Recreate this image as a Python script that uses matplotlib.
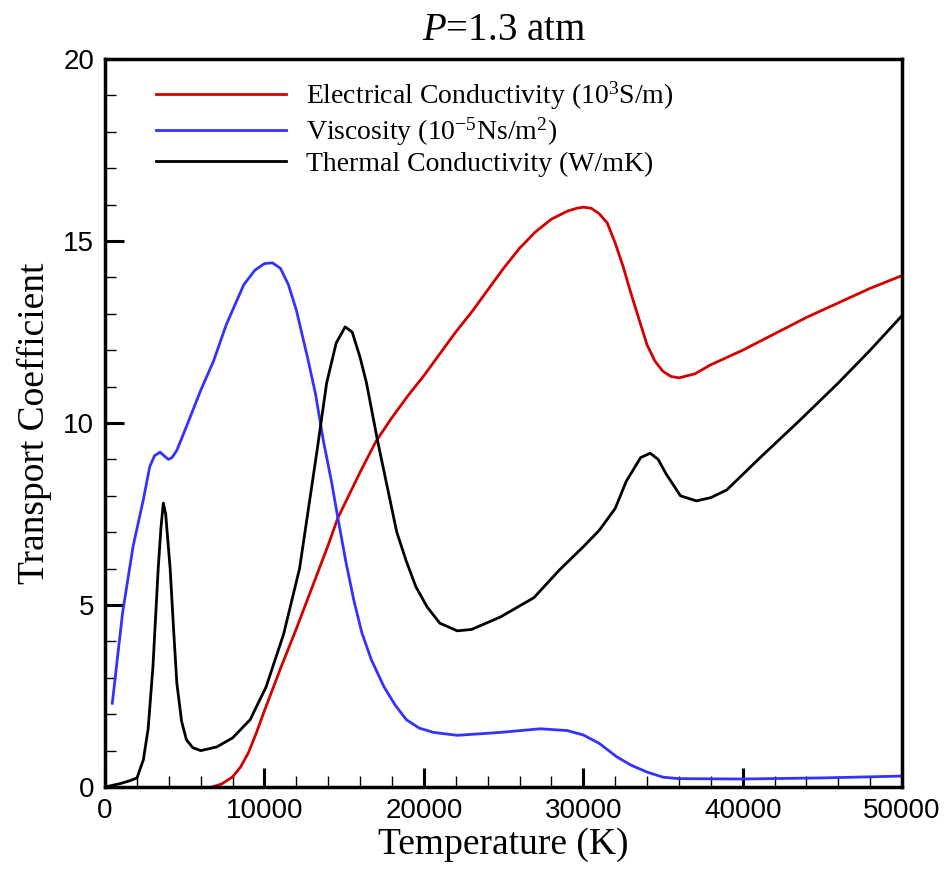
import matplotlib
matplotlib.use("Agg")
import matplotlib.pyplot as plt
from matplotlib.ticker import MultipleLocator

plt.rcParams['font.family'] = ['Liberation Serif', 'DejaVu Serif']
plt.rcParams['mathtext.fontset'] = 'custom'
plt.rcParams['mathtext.rm'] = 'Liberation Serif'
plt.rcParams['mathtext.it'] = 'Liberation Serif:italic'

# Electrical conductivity (10^3 S/m)
t_elec = [6700, 7300, 8000, 8500, 9000, 9500, 10000, 11000, 12000, 13000, 14000, 14600, 15000,
          16000, 17000, 18000, 19000, 20000, 21000, 22000, 23000, 24000, 25000, 26000, 27000,
          28000, 29000, 29600, 30000, 30500, 31000, 31500, 32000, 32500, 33000, 33500, 34000,
          34500, 35000, 35500, 36000, 37000, 38000, 40000, 42000, 44000, 46000, 48000, 50000]
v_elec = [0.0, 0.08, 0.28, 0.55, 0.95, 1.5, 2.1, 3.25, 4.35, 5.5, 6.65, 7.39, 7.75,
          8.65, 9.5, 10.15, 10.75, 11.3, 11.9, 12.5, 13.05, 13.65, 14.25, 14.8, 15.25,
          15.6, 15.82, 15.9, 15.93, 15.9, 15.75, 15.5, 14.95, 14.3, 13.55, 12.85, 12.15,
          11.7, 11.42, 11.28, 11.24, 11.35, 11.6, 12.0, 12.45, 12.9, 13.3, 13.7, 14.05]

# Viscosity (10^-5 Ns/m^2)
t_visc = [450, 1100, 1750, 2400, 2800, 3100, 3450, 3700, 3970, 4200, 4500, 5100, 6000, 6800,
          7600, 8700, 9400, 10000, 10500, 11000, 11500, 12000, 12700, 13200, 13700, 14200,
          14600, 15100, 15600, 16100, 16700, 17500, 18200, 18900, 19700, 20600, 22100, 24800,
          27300, 29000, 30000, 31000, 32100, 33000, 34000, 35000, 36000, 40000, 45000, 50000]
v_visc = [2.3, 4.8, 6.6, 7.9, 8.8, 9.1, 9.2, 9.1, 9.0, 9.05, 9.25, 9.9, 10.9, 11.7,
          12.7, 13.8, 14.2, 14.38, 14.4, 14.25, 13.8, 13.1, 11.8, 10.8, 9.5, 8.4,
          7.4, 6.2, 5.14, 4.25, 3.5, 2.75, 2.25, 1.85, 1.62, 1.5, 1.42, 1.5,
          1.6, 1.55, 1.43, 1.2, 0.83, 0.6, 0.41, 0.27, 0.23, 0.22, 0.25, 0.3]

# Thermal conductivity (W/mK)
t_therm = [0, 1000, 1600, 2000, 2400, 2700, 3000, 3330, 3500, 3650, 3800, 4080, 4300, 4500,
           4800, 5100, 5500, 6000, 7000, 8000, 9100, 10100, 11200, 12200, 13300, 13900,
           14500, 15060, 15500, 16000, 16400, 17100, 18300, 18900, 19500, 20200, 21000,
           22100, 23000, 24800, 26900, 28500, 30000, 31000, 32000, 32700, 33600, 34200,
           34700, 35200, 36100, 37100, 38000, 39000, 41100, 43600, 46000, 48000, 50000]
v_therm = [0.0, 0.1, 0.18, 0.25, 0.75, 1.6, 3.3, 6.0, 7.1, 7.8, 7.5, 6.0, 4.3, 2.85,
           1.8, 1.3, 1.08, 1.0, 1.1, 1.35, 1.85, 2.75, 4.2, 6.0, 9.25, 11.1,
           12.2, 12.64, 12.5, 11.8, 11.1, 9.5, 7.0, 6.2, 5.5, 4.95, 4.5,
           4.29, 4.33, 4.67, 5.2, 5.96, 6.6, 7.05, 7.65, 8.4, 9.05, 9.17,
           9.0, 8.6, 8.0, 7.86, 7.95, 8.16, 9.05, 10.08, 11.1, 12.0, 12.95]

fig = plt.figure(figsize=(9.47, 8.73), dpi=100)
ax = fig.add_axes([0.111, 0.0985, 0.8415, 0.8339])

ax.plot(t_elec, v_elec, color='#d40000', lw=2.0,
        label='Electrical Conductivity (10$^3$S/m)')
ax.plot(t_visc, v_visc, color='#3333ff', lw=2.0,
        label='Viscosity (10$^{-5}$Ns/m$^2$)')
ax.plot(t_therm, v_therm, color='black', lw=2.0,
        label='Thermal Conductivity (W/mK)')

ax.set_xlim(0, 50000)
ax.set_ylim(0, 20)
ax.xaxis.set_major_locator(MultipleLocator(10000))
ax.xaxis.set_minor_locator(MultipleLocator(2000))
ax.yaxis.set_major_locator(MultipleLocator(5))
ax.yaxis.set_minor_locator(MultipleLocator(1))
ax.tick_params(which='major', direction='in', length=14, width=2.2, pad=8)
ax.tick_params(which='minor', direction='in', length=8, width=1.0)
for lab in ax.get_xticklabels() + ax.get_yticklabels():
    lab.set_family(['Liberation Sans', 'DejaVu Sans'])
    lab.set_fontsize(20)
for s in ax.spines.values():
    s.set_linewidth(2.5)

ax.set_xlabel('Temperature (K)', fontsize=27, labelpad=2)
ax.set_ylabel('Transport Coefficient', fontsize=27, labelpad=8)
ax.set_title('$P$=1.3 atm', fontsize=28, pad=14)

ax.legend(loc='upper left', frameon=False, fontsize=20, handlelength=4.7,
          handletextpad=0.72, labelspacing=0.12, borderaxespad=0.3,
          bbox_to_anchor=(0.039, 0.998))

fig.savefig('out.png', dpi=100)
